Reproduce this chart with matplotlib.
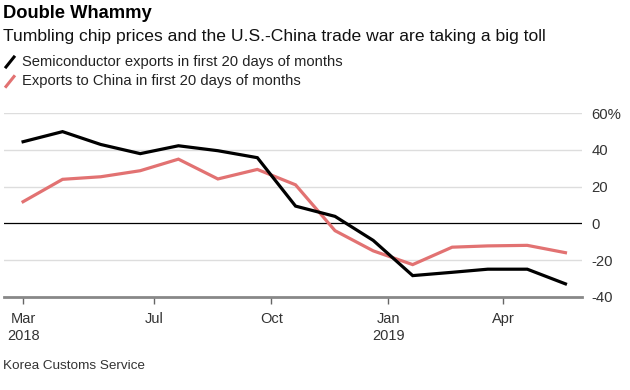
import matplotlib
matplotlib.use("Agg")
import matplotlib.pyplot as plt
from matplotlib.lines import Line2D
import datetime as dt

plt.rcParams['font.family'] = ['Liberation Sans', 'DejaVu Sans']

# ---- data ----
months = ["2018-03-20", "2018-04-20", "2018-05-20", "2018-06-20", "2018-07-20",
          "2018-08-20", "2018-09-20", "2018-10-20", "2018-11-20", "2018-12-20",
          "2019-01-20", "2019-02-20", "2019-03-20", "2019-04-20", "2019-05-20"]
semiconductor = [44.5, 50, 43, 38, 42.3, 39.6, 35.8, 9.4, 3.8, -9.3,
                 -28.5, -26.7, -25, -25, -33]
china = [11.8, 24, 25.4, 28.7, 35, 24.2, 29.4, 21, -4, -15,
         -22.5, -13, -12.3, -12, -16]
series_labels = ["Semiconductor exports in first 20 days of months",
                 "Exports to China in first 20 days of months"]
tick_dates = ["2018-03-20", "2018-07-01", "2018-10-01", "2019-01-01", "2019-04-01"]
tick_labels = ["Mar\n2018", "Jul", "Oct", "Jan\n2019", "Apr"]
y_ticks = [-40, -20, 0, 20, 40, 60]
y_tick_labels = ["-40", "-20", "0", "20", "40", "60%"]

x = [dt.datetime.strptime(m, "%Y-%m-%d") for m in months]
tx = [dt.datetime.strptime(m, "%Y-%m-%d") for m in tick_dates]

BLACK = "#000000"
RED = "#e27272"
TXT = "#333333"

fig = plt.figure(figsize=(6.3, 3.9), dpi=100)
ax = fig.add_axes([4/630, 1-296.7/390, (582-4)/630, (296.7-113.3)/390])

ax.set_ylim(-40, 60)
ax.set_xlim(dt.datetime(2018, 3, 5), dt.datetime(2019, 6, 2))

for v in y_ticks:
    if v == 0:
        ax.axhline(v, color="#000000", lw=0.9, zorder=2)
    elif v != -40:
        ax.axhline(v, color="#dddddd", lw=1.0, zorder=1)

ax.plot(x, china, color=RED, lw=2.3, zorder=3, solid_joinstyle="miter")
ax.plot(x, semiconductor, color=BLACK, lw=2.3, zorder=4, solid_joinstyle="miter")

for s in ["top", "left", "right"]:
    ax.spines[s].set_visible(False)
ax.spines["bottom"].set_color("#888888")
ax.spines["bottom"].set_linewidth(2.0)
ax.spines["bottom"].set_zorder(5)

ax.set_xticks(tx)
ax.set_xticklabels(tick_labels, fontsize=10.5, color=TXT, linespacing=1.3)
ax.tick_params(axis="x", direction="out", length=5, width=1, color="#666666", pad=6)

ax.yaxis.tick_right()
ax.set_yticks(y_ticks)
ax.set_yticklabels(y_tick_labels, fontsize=10.7, color=TXT, ha="left")
ax.tick_params(axis="y", length=0, pad=7)
ax.patch.set_alpha(0)

# titles
fig.text(3/630, 1-14/390, "Double Whammy", fontsize=13.2, fontweight="bold",
         color="#000000", va="center", ha="left")
fig.text(3/630, 1-36/390, "Tumbling chip prices and the U.S.-China trade war are taking a big toll",
         fontsize=12.6, color="#111111", va="center", ha="left")

# legend
for i, (lab, col) in enumerate(zip(series_labels, [BLACK, RED])):
    yc = 62 + 19.5*i
    fig.add_artist(Line2D([6/630, 14/630], [1-(yc+5)/390, 1-(yc-5)/390],
                          color=col, lw=2.2, transform=fig.transFigure))
    fig.text(22/630, 1-yc/390, lab, fontsize=10.6, color="#222222", va="center", ha="left")

fig.text(3/630, 1-366/390, "Korea Customs Service", fontsize=9.7, color="#333333",
         va="center", ha="left")

fig.savefig("out.png", dpi=100)
